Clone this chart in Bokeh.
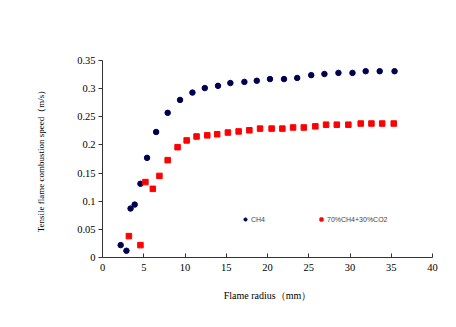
from bokeh.plotting import figure
from bokeh.models import Range1d, Legend, LegendItem, FixedTicker
from bokeh.embed import file_html
from bokeh.resources import INLINE

ch4_x = [2.2, 2.9, 3.4, 3.9, 4.6, 5.4, 6.5, 7.9, 9.4, 10.9, 12.4, 14.0, 15.5, 17.2, 18.7,
         20.3, 22.0, 23.6, 25.3, 26.9, 28.6, 30.3, 31.9, 33.6, 35.4]
ch4_y = [0.022, 0.012, 0.087, 0.094, 0.131, 0.177, 0.223, 0.257, 0.280, 0.293, 0.301, 0.305,
         0.310, 0.312, 0.314, 0.317, 0.317, 0.319, 0.324, 0.326, 0.328, 0.328, 0.331, 0.331, 0.331]

mix_x = [3.2, 4.6, 5.2, 6.1, 6.9, 7.9, 9.1, 10.2, 11.4, 12.7, 13.9, 15.2, 16.5, 17.8, 19.1,
         20.5, 21.8, 23.1, 24.4, 25.8, 27.1, 28.4, 29.8, 31.3, 32.6, 33.9, 35.3]
mix_y = [0.038, 0.022, 0.134, 0.122, 0.145, 0.173, 0.196, 0.208, 0.215, 0.217, 0.219, 0.222,
         0.224, 0.226, 0.229, 0.229, 0.229, 0.231, 0.231, 0.233, 0.236, 0.236, 0.236, 0.238,
         0.238, 0.238, 0.238]

x_ticks = [0, 5, 10, 15, 20, 25, 30, 35, 40]
y_ticks = [0, 0.05, 0.1, 0.15, 0.2, 0.25, 0.3, 0.35]

FONT = "Liberation Serif"

p = figure(width=440, height=310, output_backend="svg", toolbar_location=None,
           x_range=Range1d(0, 40), y_range=Range1d(0, 0.35),
           min_border_left=102, min_border_right=8, min_border_top=60, min_border_bottom=53,
           frame_width=330, frame_height=197)
p.background_fill_color = "white"
p.border_fill_color = "white"
p.outline_line_color = None
p.grid.visible = False

r1 = p.scatter(ch4_x, ch4_y, marker="circle", size=5.5, color="#000050")
r2 = p.scatter(mix_x, mix_y, marker="square", size=5.5, color="#ff0000")

for ax in (p.xaxis[0], p.yaxis[0]):
    ax.axis_line_color = "#333333"
    ax.major_tick_line_color = "#333333"
    ax.minor_tick_line_color = None
    ax.major_label_text_font = FONT
    ax.major_label_text_font_size = "10.5px"
    ax.major_label_text_color = "black"
    ax.axis_label_text_font = FONT
    ax.axis_label_text_font_style = "normal"
    ax.axis_label_text_color = "black"

p.xaxis[0].ticker = FixedTicker(ticks=x_ticks)
p.xaxis[0].major_tick_in = 4
p.xaxis[0].major_tick_out = 0
p.xaxis[0].major_label_standoff = 6
p.xaxis[0].axis_label = "Flame radius（mm）"
p.xaxis[0].axis_label_text_font_size = "10px"
p.xaxis[0].axis_label_standoff = 16

p.yaxis[0].ticker = FixedTicker(ticks=y_ticks)
p.yaxis[0].major_tick_in = 0
p.yaxis[0].major_tick_out = 4
p.yaxis[0].major_label_standoff = 3
p.yaxis[0].axis_label = "Tensile flame combustion speed（m/s）"
p.yaxis[0].axis_label_text_font_size = "9px"
p.yaxis[0].axis_label_standoff = 28

legend = Legend(items=[LegendItem(label="CH4", renderers=[r1]),
                       LegendItem(label="70%CH4+30%CO2", renderers=[r2])],
                orientation="horizontal", location=(139, 34),
                padding=0, margin=0, spacing=46, glyph_width=8, glyph_height=8,
                label_standoff=2, label_text_font="Liberation Sans",
                label_text_font_size="7px", label_height=8,
                border_line_color=None, background_fill_alpha=0)
p.add_layout(legend, "center")

open("out.html", "w").write(file_html(p, INLINE))
